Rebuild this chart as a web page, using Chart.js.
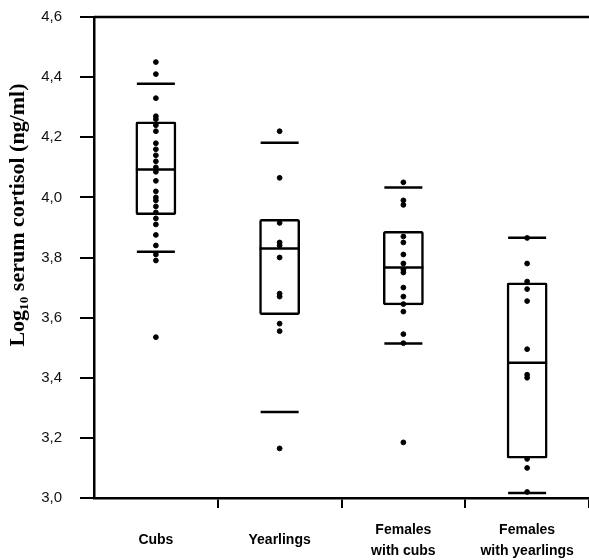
<!DOCTYPE html>
<html>
<head>
<meta charset="utf-8">
<script src="https://cdn.jsdelivr.net/npm/chart.js@4.4.1/dist/chart.umd.min.js"></script>
<style>
html, body { margin: 0; padding: 0; background: #ffffff; }
#wrap { width: 589px; height: 560px; }
</style>
</head>
<body>
<div id="wrap"><canvas id="myChart"></canvas></div>
<script>
/* ---------- DATA ---------- */

const categories = ["Cubs", "Yearlings", "Females with cubs", "Females with yearlings"];
const tickLines = [["Cubs"], ["Yearlings"], ["Females", "with cubs"], ["Females", "with yearlings"]];
const yTitle = "Log\u2081\u2080 serum cortisol (ng/ml)";

// box: lower quartile, median, upper quartile, whisker ends
const q1 = [3.941, 3.609, 3.641, 3.131];
const medians = [4.093, 3.830, 3.767, 3.450];
const q3 = [4.252, 3.928, 3.888, 3.717];
const whiskerLow = [3.819, 3.286, 3.514, 3.017];
const whiskerHigh = [4.378, 4.182, 4.033, 3.866];

// single observations
const cubsValues = [4.45, 4.41, 4.33, 4.27, 4.26, 4.24, 4.22, 4.18, 4.16, 4.14, 4.12, 4.10, 4.085,
  4.055, 4.02, 4.00, 3.99, 3.97, 3.95, 3.93, 3.91, 3.875, 3.84, 3.81, 3.79, 3.535];
const yearlingValues = [4.22, 4.065, 3.915, 3.85, 3.84, 3.80, 3.68, 3.67, 3.58, 3.555, 3.165];
const femCubsValues = [4.05, 3.99, 3.975, 3.87, 3.85, 3.81, 3.78, 3.76, 3.75, 3.70, 3.67, 3.645,
  3.62, 3.545, 3.515, 3.185];
const femYearlingValues = [3.865, 3.78, 3.72, 3.695, 3.655, 3.495, 3.41, 3.40, 3.13, 3.10, 3.02];

const yMin = 3.0;
const yMax = 4.6;
const yStep = 0.2;

/* ---------- HELPERS ---------- */

function perCategory(values) {
  return values.map((v, i) => ({ x: categories[i], y: v }));
}

const groups = [cubsValues, yearlingValues, femCubsValues, femYearlingValues];
const points = [];
groups.forEach((vals, i) => {
  vals.forEach(v => points.push({ x: categories[i], y: v }));
});

function markSet(data, style, radius, width) {
  return {
    type: "line",
    data: data,
    showLine: false,
    pointStyle: style,
    pointRadius: radius,
    pointHoverRadius: radius,
    pointBorderWidth: width,
    pointBorderColor: "#000",
    pointBackgroundColor: "#000",
    order: 0
  };
}

/* top frame line + rotated axis title */
const frameAndTitle = {
  id: "frameAndTitle",
  afterDraw(chart) {
    const { ctx, chartArea } = chart;
    ctx.save();
    ctx.strokeStyle = "#000";
    ctx.lineWidth = 2.5;
    ctx.beginPath();
    ctx.moveTo(chartArea.left, chartArea.top);
    ctx.lineTo(chartArea.right, chartArea.top);
    ctx.stroke();

    ctx.translate(18, 215);
    ctx.rotate(-Math.PI / 2);
    ctx.fillStyle = "#000";
    ctx.font = "bold 22px 'Liberation Serif'";
    ctx.textAlign = "center";
    ctx.textBaseline = "middle";
    ctx.fillText(yTitle, 0, 0);
    ctx.restore();
  }
};

/* ---------- CHART ---------- */

const ctx = document.getElementById("myChart").getContext("2d");

new Chart(ctx, {
  type: "bar",
  data: {
    labels: categories,
    datasets: [
      {
        type: "bar",
        data: q1.map((lo, i) => [lo, q3[i]]),
        backgroundColor: "rgba(0,0,0,0)",
        borderColor: "#000",
        borderWidth: 2.5,
        borderSkipped: false,
        borderRadius: 2,
        categoryPercentage: 1,
        barPercentage: 0.33,
        order: 2
      },
      markSet(perCategory(medians), "line", 20, 2.5),
      markSet(perCategory(whiskerHigh), "line", 19, 2.5),
      markSet(perCategory(whiskerLow), "line", 19, 2.5),
      markSet(points, "circle", 2.4, 1)
    ]
  },
  plugins: [frameAndTitle],
  options: {
    responsive: true,
    maintainAspectRatio: false,
    animation: false,
    layout: { autoPadding: false, padding: { top: 17, right: 0, left: 0, bottom: 0 } },
    plugins: {
      legend: { display: false },
      tooltip: { enabled: false }
    },
    scales: {
      x: {
        offset: true,
        border: { display: true, color: "#000", width: 2.5 },
        grid: {
          offset: true,
          drawOnChartArea: false,
          tickLength: 10,
          lineWidth: 2,
          color: c => c.index === 0 ? "rgba(0,0,0,0)" : "#000"
        },
        ticks: {
          color: "#000",
          padding: 22,
          crossAlign: "center",
          maxRotation: 0,
          autoSkip: false,
          font: { family: "Liberation Sans", size: 14, weight: "bold", lineHeight: 1.5 },
          callback: (v, i) => tickLines[i]
        },
        afterFit: scale => {
          scale.height = 62;
          scale.paddingLeft = 0;
          scale.paddingRight = 0;
        }
      },
      y: {
        min: yMin,
        max: yMax,
        border: { display: true, color: "#000", width: 2.5 },
        grid: {
          drawOnChartArea: false,
          tickLength: 14,
          lineWidth: 2,
          color: "#000"
        },
        ticks: {
          stepSize: yStep,
          color: "#111",
          padding: 18,
          font: { family: "Liberation Sans", size: 15 },
          callback: v => v.toFixed(1).replace(".", ",")
        },
        afterFit: scale => {
          scale.width = 94;
          scale.paddingTop = 0;
          scale.paddingBottom = 0;
        }
      }
    }
  }
});
</script>
</body>
</html>
